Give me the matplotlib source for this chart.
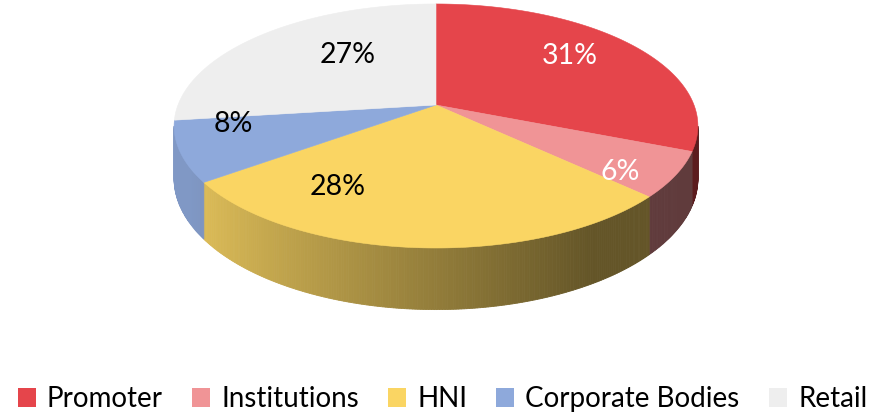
import numpy as np
import matplotlib.pyplot as plt
from matplotlib.patches import Polygon, Patch
from matplotlib.colors import to_rgb

plt.rcParams['font.family'] = ['Lato', 'DejaVu Sans']

# shareholding pattern
labels = ['Promoter', 'Institutions', 'HNI', 'Corporate Bodies', 'Retail']
shares = [31, 6, 28, 8, 27]
colors = ['#E5454B', '#F09496', '#FAD563', '#8EA9DB', '#EEEEEE']
pct_colors = ['white', 'white', 'black', 'black', 'black']
# where each percentage sits (pixels)
pct_pos = [(570, 56), (620, 172), (338, 187), (233, 124), (348, 55)]

# pie geometry, in pixels
CX, CY = 436, 105
RX, RY = 258, 118.4
DEPTH = 51
PERSP = 0.172


def project(alpha, r=1.0, h=0.0):
    # alpha runs clockwise from 12 o'clock, far side of the disc is at the top
    u = r * np.sin(alpha)
    v = -r * np.cos(alpha)
    s = 1.0 / (1.0 - PERSP * v)
    return CX + RX * u * s, CY + (RY * v + DEPTH * h) * s


def shade(u):
    # light comes from the left, the wall gets darker to the right
    return np.clip(0.88 - (u + 0.82) * 0.36, 0.4, 0.9)


fig = plt.figure(figsize=(8.76, 4.18), dpi=100)
ax = fig.add_axes([0, 0, 1, 1])
ax.set_xlim(0, 876)
ax.set_ylim(418, 0)
ax.axis('off')

total = float(sum(shares))
bounds = np.concatenate([[0], np.cumsum(shares)]) / total * 2 * np.pi

# outer wall only shows between the two silhouette points
vis_lo = np.pi - np.arccos(PERSP)
vis_hi = np.pi + np.arccos(PERSP)

for i in range(len(shares)):
    a0, a1 = max(bounds[i], vis_lo), min(bounds[i + 1], vis_hi)
    if a1 <= a0:
        continue
    base = np.array(to_rgb(colors[i]))
    steps = max(2, int(np.degrees(a1 - a0) / 0.5))
    edges = np.linspace(a0, a1, steps + 1)
    for a, b in zip(edges[:-1], edges[1:]):
        pts = [project(a), project(b), project(b, h=1), project(a, h=1)]
        c = base * shade(np.sin((a + b) / 2))
        ax.add_patch(Polygon(pts, closed=True, facecolor=c, edgecolor=c,
                             linewidth=0.6, zorder=1))

for i in range(len(shares)):
    arc = np.linspace(bounds[i], bounds[i + 1], 200)
    pts = [(CX, CY)] + [project(a) for a in arc]
    ax.add_patch(Polygon(pts, closed=True, facecolor=colors[i],
                         edgecolor=colors[i], linewidth=0.4, zorder=2))

for i in range(len(shares)):
    x, y = pct_pos[i]
    ax.text(x, y, f'{shares[i]}%', ha='center', va='center',
            fontsize=20.5, color=pct_colors[i], zorder=3)

handles = [Patch(facecolor=c, edgecolor='none') for c in colors]
fig.legend(handles, labels, loc='center', bbox_to_anchor=(0.505, 1 - 399 / 418),
           ncol=5, frameon=False, fontsize=20, handlelength=0.65,
           handleheight=0.65, handletextpad=0.4, columnspacing=1.05,
           borderaxespad=0)

fig.savefig('out.png', dpi=100)
